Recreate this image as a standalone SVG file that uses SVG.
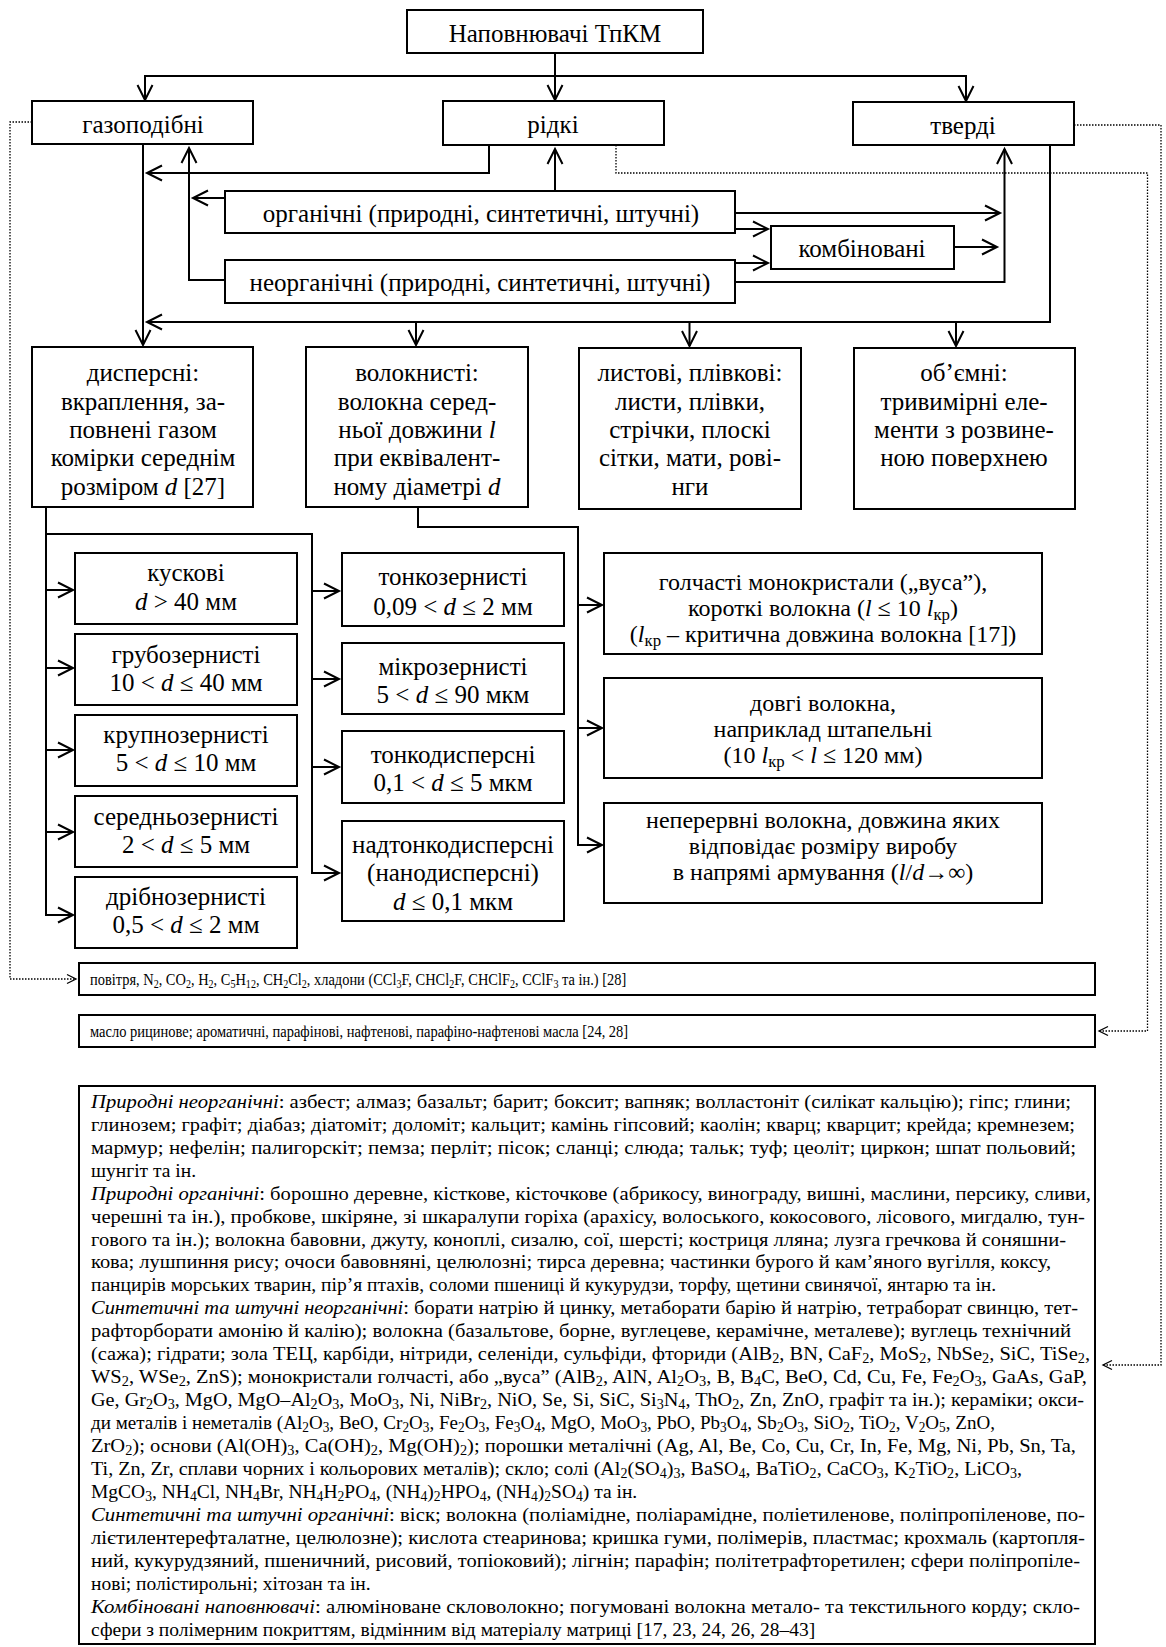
<svg xmlns="http://www.w3.org/2000/svg" width="1166" height="1647" viewBox="0 0 1166 1647">
<defs>
<style>
.b{fill:#fff;stroke:#000;stroke-width:2}
.t{font-family:"Liberation Serif","Times New Roman",serif;font-size:25px;text-anchor:middle;fill:#000}
.r{font-size:24px}
.p{font-family:"Liberation Serif","Times New Roman",serif;font-size:19.5px;fill:#000}
.q{font-family:"Liberation Serif","Times New Roman",serif;font-size:17px;fill:#000}
.c{fill:none;stroke:#000;stroke-width:2}
.d{fill:none;stroke:#000;stroke-width:1.3;stroke-dasharray:1.5 1.5}
.i{font-style:italic}
.s{font-size:70%;baseline-shift:-3px}
.u{font-size:70%;baseline-shift:-4px}
</style>
<marker id="a" markerUnits="userSpaceOnUse" viewBox="0 0 20 20" markerWidth="20" markerHeight="20" refX="16" refY="10" orient="auto">
<path d="M1,2.5 L16,10 L1,17.5" fill="none" stroke="#000" stroke-width="2"/>
</marker>
<marker id="ad" markerUnits="userSpaceOnUse" viewBox="0 0 12 12" markerWidth="12" markerHeight="12" refX="10" refY="6" orient="auto">
<path d="M1,1.5 L10,6 L1,10.5" fill="none" stroke="#000" stroke-width="1.3"/>
</marker>
</defs>
<rect width="1166" height="1647" fill="#fff"/>

<g id="connectors">
<path class="c" d="M555,53 V100" marker-end="url(#a)"/>
<path class="c" d="M555,76 H145 V100" marker-end="url(#a)"/>
<path class="c" d="M555,76 H966 V101" marker-end="url(#a)"/>
<path class="c" d="M489,145 V173 H147" marker-end="url(#a)"/>
<path class="c" d="M143,145 V345" marker-end="url(#a)"/>
<path class="c" d="M225,280 H189 V148" marker-end="url(#a)"/>
<path class="c" d="M225,198 H193" marker-end="url(#a)"/>
<path class="c" d="M555,191 V149" marker-end="url(#a)"/>
<path class="c" d="M735,213 H1000" marker-end="url(#a)"/>
<path class="c" d="M735,229 H768" marker-end="url(#a)"/>
<path class="c" d="M735,263 H768" marker-end="url(#a)"/>
<path class="c" d="M735,282 H1004.5 V149" marker-end="url(#a)"/>
<path class="c" d="M954,247 H997" marker-end="url(#a)"/>
<path class="c" d="M1050,145 V322 H147" marker-end="url(#a)"/>
<path class="c" d="M416,322 V345" marker-end="url(#a)"/>
<path class="c" d="M689.5,322 V346" marker-end="url(#a)"/>
<path class="c" d="M956,322 V346" marker-end="url(#a)"/>
<path class="c" d="M46,507 V915 H73" marker-end="url(#a)"/>
<path class="c" d="M46,590 H73" marker-end="url(#a)"/>
<path class="c" d="M46,668 H73" marker-end="url(#a)"/>
<path class="c" d="M46,750 H73" marker-end="url(#a)"/>
<path class="c" d="M46,832 H73" marker-end="url(#a)"/>
<path class="c" d="M46,534 H312 V873 H339" marker-end="url(#a)"/>
<path class="c" d="M312,591 H339" marker-end="url(#a)"/>
<path class="c" d="M312,679 H339" marker-end="url(#a)"/>
<path class="c" d="M312,767 H339" marker-end="url(#a)"/>
<path class="c" d="M418,507 V527 H578 V845 H602" marker-end="url(#a)"/>
<path class="c" d="M578,605 H602" marker-end="url(#a)"/>
<path class="c" d="M578,728 H602" marker-end="url(#a)"/>
<path class="d" d="M32,122 H10 V979 H76" marker-end="url(#ad)"/>
<path class="d" d="M616,145 V173 H1147.5 V1031 H1099" marker-end="url(#ad)"/>
<path class="d" d="M1074,125 H1161 V1365 H1103" marker-end="url(#ad)"/>
</g>

<g id="n-root"><rect class="b" x="407" y="10" width="296" height="43"/><text class="t" x="555" y="42">Наповнювачі ТпКМ</text></g>
<g id="n-gas"><rect class="b" x="32" y="101" width="221" height="43"/><text class="t" x="143" y="133">газоподібні</text></g>
<g id="n-liquid"><rect class="b" x="443" y="101" width="221" height="44"/><text class="t" x="553" y="133">рідкі</text></g>
<g id="n-solid"><rect class="b" x="853" y="102" width="221" height="43"/><text class="t" x="963" y="134">тверді</text></g>
<g id="n-org"><rect class="b" x="225" y="191" width="510" height="42"/><text class="t" x="481" y="222">органічні (природні, синтетичні, штучні)</text></g>
<g id="n-comb"><rect class="b" x="771" y="226" width="183" height="43"/><text class="t" x="862" y="257">комбіновані</text></g>
<g id="n-inorg"><rect class="b" x="225" y="260" width="510" height="43"/><text class="t" x="480" y="291">неорганічні (природні, синтетичні, штучні)</text></g>

<g id="n-disp"><rect class="b" x="32" y="347" width="221" height="160"/>
<text class="t" x="143" y="381">дисперсні:</text>
<text class="t" x="143" y="410">вкраплення, за-</text>
<text class="t" x="143" y="438">повнені газом</text>
<text class="t" x="143" y="466">комірки середнім</text>
<text class="t" x="143" y="495">розміром <tspan class="i">d</tspan> [27]</text></g>
<g id="n-fib"><rect class="b" x="306" y="347" width="222" height="160"/>
<text class="t" x="417" y="381">волокнисті:</text>
<text class="t" x="417" y="410">волокна серед-</text>
<text class="t" x="417" y="438">ньої довжини <tspan class="i">l</tspan></text>
<text class="t" x="417" y="466">при еквівалент-</text>
<text class="t" x="417" y="495">ному діаметрі <tspan class="i">d</tspan></text></g>
<g id="n-sheet"><rect class="b" x="579" y="348" width="222" height="161"/>
<text class="t" x="690" y="381">листові, плівкові:</text>
<text class="t" x="690" y="410">листи, плівки,</text>
<text class="t" x="690" y="438">стрічки, плоскі</text>
<text class="t" x="690" y="466">сітки, мати, рові-</text>
<text class="t" x="690" y="495">нги</text></g>
<g id="n-vol"><rect class="b" x="854" y="348" width="221" height="161"/>
<text class="t" x="964" y="381">об’ємні:</text>
<text class="t" x="964" y="410">тривимірні еле-</text>
<text class="t" x="964" y="438">менти з розвине-</text>
<text class="t" x="964" y="466">ною поверхнею</text></g>

<g id="n-lump"><rect class="b" x="75" y="553" width="222" height="71"/>
<text class="t" x="186" y="581">кускові</text>
<text class="t" x="186" y="610"><tspan class="i">d</tspan> &gt; 40 мм</text></g>
<g id="n-coarse"><rect class="b" x="75" y="634" width="222" height="71"/>
<text class="t" x="186" y="663">грубозернисті</text>
<text class="t" x="186" y="691">10 &lt; <tspan class="i">d</tspan> ≤ 40 мм</text></g>
<g id="n-large"><rect class="b" x="75" y="715" width="222" height="71"/>
<text class="t" x="186" y="743">крупнозернисті</text>
<text class="t" x="186" y="771">5 &lt; <tspan class="i">d</tspan> ≤ 10 мм</text></g>
<g id="n-medium"><rect class="b" x="75" y="796" width="222" height="71"/>
<text class="t" x="186" y="825">середньозернисті</text>
<text class="t" x="186" y="853">2 &lt; <tspan class="i">d</tspan> ≤ 5 мм</text></g>
<g id="n-small"><rect class="b" x="75" y="877" width="222" height="71"/>
<text class="t" x="186" y="905">дрібнозернисті</text>
<text class="t" x="186" y="933">0,5 &lt; <tspan class="i">d</tspan> ≤ 2 мм</text></g>

<g id="n-fine"><rect class="b" x="342" y="553" width="222" height="73"/>
<text class="t" x="453" y="585">тонкозернисті</text>
<text class="t" x="453" y="615">0,09 &lt; <tspan class="i">d</tspan> ≤ 2 мм</text></g>
<g id="n-micro"><rect class="b" x="342" y="643" width="222" height="71"/>
<text class="t" x="453" y="675">мікрозернисті</text>
<text class="t" x="453" y="703">5 &lt; <tspan class="i">d</tspan> ≤ 90 мкм</text></g>
<g id="n-finedisp"><rect class="b" x="342" y="731" width="222" height="72"/>
<text class="t" x="453" y="763">тонкодисперсні</text>
<text class="t" x="453" y="791">0,1 &lt; <tspan class="i">d</tspan> ≤ 5 мкм</text></g>
<g id="n-nano"><rect class="b" x="342" y="821" width="222" height="100"/>
<text class="t" x="453" y="853">надтонкодисперсні</text>
<text class="t" x="453" y="881">(нанодисперсні)</text>
<text class="t" x="453" y="910"><tspan class="i">d</tspan> ≤ 0,1 мкм</text></g>

<g id="n-short"><rect class="b" x="604" y="553" width="438" height="101"/>
<text class="t r" x="823" y="590">голчасті монокристали („вуса”),</text>
<text class="t r" x="823" y="616">короткі волокна (<tspan class="i">l</tspan> ≤ 10 <tspan class="i">l</tspan><tspan class="u">кр</tspan>)</text>
<text class="t r" x="823" y="642">(<tspan class="i">l</tspan><tspan class="u">кр</tspan> – критична довжина волокна [17])</text></g>
<g id="n-long"><rect class="b" x="604" y="678" width="438" height="100"/>
<text class="t r" x="823" y="711">довгі волокна,</text>
<text class="t r" x="823" y="737">наприклад штапельні</text>
<text class="t r" x="823" y="763">(10 <tspan class="i">l</tspan><tspan class="u">кр</tspan> &lt; <tspan class="i">l</tspan> ≤ 120 мм)</text></g>
<g id="n-cont"><rect class="b" x="604" y="803" width="438" height="100"/>
<text class="t r" x="823" y="828">неперервні волокна, довжина яких</text>
<text class="t r" x="823" y="854">відповідає розміру виробу</text>
<text class="t r" x="823" y="880">в напрямі армування (<tspan class="i">l</tspan>/<tspan class="i">d</tspan>→∞)</text></g>

<g id="n-gaslist"><rect class="b" x="79" y="963" width="1016" height="32"/>
<text class="q" transform="translate(90 985) scale(0.848 1)">повітря, N<tspan class="s">2</tspan>, CO<tspan class="s">2</tspan>, H<tspan class="s">2</tspan>, C<tspan class="s">5</tspan>H<tspan class="s">12</tspan>, CH<tspan class="s">2</tspan>Cl<tspan class="s">2</tspan>, хладони (CCl<tspan class="s">3</tspan>F, CHCl<tspan class="s">2</tspan>F, CHClF<tspan class="s">2</tspan>, CClF<tspan class="s">3</tspan> та ін.) [28]</text></g>
<g id="n-liqlist"><rect class="b" x="79" y="1015" width="1016" height="32"/>
<text class="q" transform="translate(90 1037) scale(0.853 1)">масло рицинове; ароматичні, парафінові, нафтенові, парафіно-нафтенові масла [24, 28]</text></g>

<g id="n-sollist"><rect class="b" x="79" y="1086" width="1016" height="558"/>
<text class="p" x="91" y="1108" textLength="980" lengthAdjust="spacingAndGlyphs"><tspan class="i">Природні неорганічні</tspan>: азбест; алмаз; базальт; барит; боксит; вапняк; волластоніт (силікат кальцію); гіпс; глини;</text>
<text class="p" x="91" y="1131" textLength="984" lengthAdjust="spacingAndGlyphs">глинозем; графіт; діабаз; діатоміт; доломіт; кальцит; камінь гіпсовий; каолін; кварц; кварцит; крейда; кремнезем;</text>
<text class="p" x="91" y="1154" textLength="985" lengthAdjust="spacingAndGlyphs">мармур; нефелін; палигорскіт; пемза; перліт; пісок; сланці; слюда; тальк; туф; цеоліт; циркон; шпат польовий;</text>
<text class="p" x="91" y="1177">шунгіт та ін.</text>
<text class="p" x="91" y="1200" textLength="1000" lengthAdjust="spacingAndGlyphs"><tspan class="i">Природні органічні</tspan>: борошно деревне, кісткове, кісточкове (абрикосу, винограду, вишні, маслини, персику, сливи,</text>
<text class="p" x="91" y="1223" textLength="994" lengthAdjust="spacingAndGlyphs">черешні та ін.), пробкове, шкіряне, зі шкаралупи горіха (арахісу, волоського, кокосового, лісового, мигдалю, тун-</text>
<text class="p" x="91" y="1246" textLength="975" lengthAdjust="spacingAndGlyphs">гового та ін.); волокна бавовни, джуту, коноплі, сизалю, сої, шерсті; костриця лляна; лузга гречкова й соняшни-</text>
<text class="p" x="91" y="1268" textLength="960" lengthAdjust="spacingAndGlyphs">кова; лушпиння рису; очоси бавовняні, целюлозні; тирса деревна; частинки бурого й кам’яного вугілля, коксу,</text>
<text class="p" x="91" y="1291">панцирів морських тварин, пір’я птахів, соломи пшениці й кукурудзи, торфу, щетини свинячої, янтарю та ін.</text>
<text class="p" x="91" y="1314" textLength="987" lengthAdjust="spacingAndGlyphs"><tspan class="i">Синтетичні та штучні неорганічні</tspan>: борати натрію й цинку, метаборати барію й натрію, тетраборат свинцю, тет-</text>
<text class="p" x="91" y="1337" textLength="980" lengthAdjust="spacingAndGlyphs">рафторборати амонію й калію); волокна (базальтове, борне, вуглецеве, керамічне, металеве); вуглець технічний</text>
<text class="p" x="91" y="1360" textLength="999" lengthAdjust="spacingAndGlyphs">(сажа); гідрати; зола ТЕЦ, карбіди, нітриди, селеніди, сульфіди, фториди (AlB<tspan class="s">2</tspan>, BN, CaF<tspan class="s">2</tspan>, MoS<tspan class="s">2</tspan>, NbSe<tspan class="s">2</tspan>, SiC, TiSe<tspan class="s">2</tspan>,</text>
<text class="p" x="91" y="1383" textLength="996" lengthAdjust="spacingAndGlyphs">WS<tspan class="s">2</tspan>, WSe<tspan class="s">2</tspan>, ZnS); монокристали голчасті, або „вуса” (AlB<tspan class="s">2</tspan>, AlN, Al<tspan class="s">2</tspan>O<tspan class="s">3</tspan>, B, B<tspan class="s">4</tspan>C, BeO, Cd, Cu, Fe, Fe<tspan class="s">2</tspan>O<tspan class="s">3</tspan>, GaAs, GaP,</text>
<text class="p" x="91" y="1406" textLength="993" lengthAdjust="spacingAndGlyphs">Ge, Gr<tspan class="s">2</tspan>O<tspan class="s">3</tspan>, MgO, MgO–Al<tspan class="s">2</tspan>O<tspan class="s">3</tspan>, MoO<tspan class="s">3</tspan>, Ni, NiBr<tspan class="s">2</tspan>, NiO, Se, Si, SiC, Si<tspan class="s">3</tspan>N<tspan class="s">4</tspan>, ThO<tspan class="s">2</tspan>, Zn, ZnO, графіт та ін.); кераміки; окси-</text>
<text class="p" x="91" y="1429" textLength="904" lengthAdjust="spacingAndGlyphs">ди металів і неметалів (Al<tspan class="s">2</tspan>O<tspan class="s">3</tspan>, BeO, Cr<tspan class="s">2</tspan>O<tspan class="s">3</tspan>, Fe<tspan class="s">2</tspan>O<tspan class="s">3</tspan>, Fe<tspan class="s">3</tspan>O<tspan class="s">4</tspan>, MgO, MoO<tspan class="s">3</tspan>,  PbO, Pb<tspan class="s">3</tspan>O<tspan class="s">4</tspan>, Sb<tspan class="s">2</tspan>O<tspan class="s">3</tspan>, SiO<tspan class="s">2</tspan>, TiO<tspan class="s">2</tspan>, V<tspan class="s">2</tspan>O<tspan class="s">5</tspan>, ZnO,</text>
<text class="p" x="91" y="1452" textLength="985" lengthAdjust="spacingAndGlyphs">ZrO<tspan class="s">2</tspan>); основи (Al(OH)<tspan class="s">3</tspan>, Ca(OH)<tspan class="s">2</tspan>, Mg(OH)<tspan class="s">2</tspan>); порошки металічні (Ag, Al,  Be, Co, Cu, Cr, In, Fe, Mg, Ni, Pb, Sn, Ta,</text>
<text class="p" x="91" y="1475" textLength="931" lengthAdjust="spacingAndGlyphs">Ti, Zn, Zr, сплави чорних і кольорових металів); скло; солі (Al<tspan class="s">2</tspan>(SO<tspan class="s">4</tspan>)<tspan class="s">3</tspan>, BaSO<tspan class="s">4</tspan>, BaTiO<tspan class="s">2</tspan>, CaCO<tspan class="s">3</tspan>, K<tspan class="s">2</tspan>TiO<tspan class="s">2</tspan>, LiCO<tspan class="s">3</tspan>,</text>
<text class="p" x="91" y="1498">MgCO<tspan class="s">3</tspan>, NH<tspan class="s">4</tspan>Cl, NH<tspan class="s">4</tspan>Br, NH<tspan class="s">4</tspan>H<tspan class="s">2</tspan>PO<tspan class="s">4</tspan>, (NH<tspan class="s">4</tspan>)<tspan class="s">2</tspan>HPO<tspan class="s">4</tspan>, (NH<tspan class="s">4</tspan>)<tspan class="s">2</tspan>SO<tspan class="s">4</tspan>) та ін.</text>
<text class="p" x="91" y="1521" textLength="994" lengthAdjust="spacingAndGlyphs"><tspan class="i">Синтетичні та штучні органічні</tspan>: віск; волокна (поліамідне, поліарамідне, поліетиленове, поліпропіленове,  по-</text>
<text class="p" x="91" y="1544" textLength="994" lengthAdjust="spacingAndGlyphs">лієтилентерефталатне, целюлозне); кислота стеаринова; кришка гуми, полімерів, пластмас; крохмаль (картопля-</text>
<text class="p" x="91" y="1567" textLength="989" lengthAdjust="spacingAndGlyphs">ний, кукурудзяний, пшеничний, рисовий, топіоковий); лігнін; парафін; політетрафторетилен; сфери поліпропіле-</text>
<text class="p" x="91" y="1590">нові; полістирольні; хітозан та ін.</text>
<text class="p" x="91" y="1613" textLength="989" lengthAdjust="spacingAndGlyphs"><tspan class="i">Комбіновані наповнювачі</tspan>: алюміноване скловолокно; погумовані волокна метало- та текстильного корду; скло-</text>
<text class="p" x="91" y="1636">сфери з полімерним покриттям, відмінним від матеріалу матриці [17, 23, 24, 26, 28–43]</text>
</g>
</svg>
